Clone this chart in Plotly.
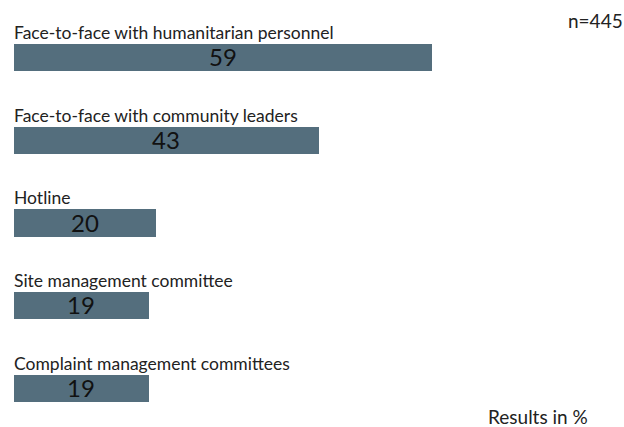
import plotly.graph_objects as go

categories = [
    "Face-to-face with humanitarian personnel",
    "Face-to-face with community leaders",
    "Hotline",
    "Site management committee",
    "Complaint management committees",
]
values = [59, 43, 20, 19, 19]
sample_note = "n=445"
unit_note = "Results in %"

bar_color = "#546e7d"
font_family = "Lato, 'Open Sans', sans-serif"
bar_width = 0.33
W, H = 624, 427

positions = list(range(len(categories)))

fig = go.Figure(
    go.Bar(
        x=values,
        y=positions,
        orientation="h",
        width=bar_width,
        marker=dict(color=bar_color, line=dict(width=0)),
        hoverinfo="skip",
    )
)

# value labels centred in each bar, category labels just above it
for pos, label, val in zip(positions, categories, values):
    fig.add_annotation(
        x=val / 2, y=pos, xref="x", yref="y",
        text=str(val), showarrow=False,
        xanchor="center", yanchor="middle", yshift=1,
        font=dict(family=font_family, size=24, color="#111111"),
    )
    fig.add_annotation(
        x=0, y=pos - bar_width / 2, xref="x", yref="y",
        text=label, showarrow=False,
        xanchor="left", yanchor="bottom", xshift=-2, yshift=-1,
        font=dict(family=font_family, size=17.5, color="#222222"),
    )

fig.add_annotation(
    x=1, y=1, xref="paper", yref="paper", text=sample_note, showarrow=False,
    xanchor="right", yanchor="top", xshift=1, yshift=-7,
    font=dict(family=font_family, size=19, color="#222222"),
)
fig.add_annotation(
    x=(590 - 14) / (W - 14), y=(H - 416) / H, xref="paper", yref="paper",
    text=unit_note, showarrow=False, xanchor="right", yanchor="middle",
    font=dict(family=font_family, size=19, color="#222222"),
)

fig.update_layout(
    width=W, height=H,
    margin=dict(l=14, r=0, t=0, b=0),
    plot_bgcolor="white", paper_bgcolor="white",
    showlegend=False,
    bargap=0,
    xaxis=dict(range=[0, (W - 14) / 7.085], visible=False, fixedrange=True),
    yaxis=dict(range=[(H - 57.5) / 82.75, -57.5 / 82.75], visible=False, fixedrange=True),
)

fig.write_html("out.html")
